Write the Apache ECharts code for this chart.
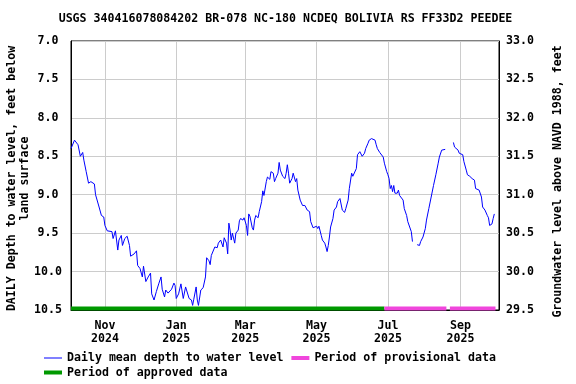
<!DOCTYPE html>
<html>
<head>
<meta charset="utf-8">
<script src="https://cdn.jsdelivr.net/npm/echarts@6/dist/echarts.min.js"></script>
<style>html,body{margin:0;padding:0;background:#fff;}#chart{width:576px;height:384px;}</style>
</head>
<body>
<div id="chart"></div>
<script>
const titleText = 'USGS 340416078084202 BR-078 NC-180 NCDEQ BOLIVIA RS FF33D2 PEEDEE';
const axisStart = '2024-10-03';
const axisEnd = '2025-10-04';
const xTickDates = ['2024-11-01','2025-01-01','2025-03-01','2025-05-01','2025-07-01','2025-09-01'];
const xTickLabels = ['Nov\n2024','Jan\n2025','Mar\n2025','May\n2025','Jul\n2025','Sep\n2025'];
const leftAxis = {min: 7.0, max: 10.5, step: 0.5};
const rightAxis = {min: 29.5, max: 33.0, step: 0.5};

const dates = [
'2024-10-03','2024-10-06','2024-10-09','2024-10-11','2024-10-13','2024-10-14','2024-10-16','2024-10-18','2024-10-20','2024-10-23',
'2024-10-24','2024-10-27','2024-10-29','2024-10-31','2024-11-01','2024-11-03','2024-11-07','2024-11-08','2024-11-10','2024-11-12',
'2024-11-13','2024-11-15','2024-11-16','2024-11-18','2024-11-20','2024-11-22','2024-11-23','2024-11-26','2024-11-28','2024-11-29',
'2024-12-01','2024-12-03','2024-12-04','2024-12-06','2024-12-08','2024-12-10','2024-12-11','2024-12-13','2024-12-15','2024-12-17',
'2024-12-19','2024-12-20','2024-12-22','2024-12-23','2024-12-25','2024-12-28','2024-12-30','2024-12-31','2025-01-01','2025-01-03',
'2025-01-05','2025-01-07','2025-01-09','2025-01-12','2025-01-14','2025-01-15','2025-01-16','2025-01-18','2025-01-19','2025-01-20',
'2025-01-22','2025-01-24','2025-01-26','2025-01-27','2025-01-29','2025-01-30','2025-01-31','2025-02-01','2025-02-03','2025-02-05',
'2025-02-06','2025-02-08','2025-02-10','2025-02-11','2025-02-13','2025-02-14','2025-02-15','2025-02-16','2025-02-17','2025-02-18',
'2025-02-20','2025-02-21','2025-02-23','2025-02-24','2025-02-25','2025-02-27','2025-02-28','2025-03-02','2025-03-03','2025-03-04',
'2025-03-05','2025-03-07','2025-03-08','2025-03-09','2025-03-10','2025-03-12','2025-03-13','2025-03-15','2025-03-16','2025-03-17',
'2025-03-19','2025-03-20','2025-03-22','2025-03-23','2025-03-25','2025-03-26','2025-03-27','2025-03-29','2025-03-30','2025-03-31',
'2025-04-02','2025-04-04','2025-04-05','2025-04-06','2025-04-07','2025-04-08','2025-04-10','2025-04-11','2025-04-13','2025-04-14',
'2025-04-15','2025-04-17','2025-04-19','2025-04-21','2025-04-23','2025-04-25','2025-04-26','2025-04-28','2025-05-01','2025-05-02',
'2025-05-03','2025-05-05','2025-05-06','2025-05-08','2025-05-09','2025-05-10','2025-05-11','2025-05-12','2025-05-13','2025-05-15',
'2025-05-16','2025-05-18','2025-05-19','2025-05-21','2025-05-23','2025-05-25','2025-05-26','2025-05-28','2025-05-29','2025-05-31',
'2025-06-01','2025-06-02','2025-06-04','2025-06-05','2025-06-07','2025-06-08','2025-06-09','2025-06-11','2025-06-12','2025-06-14',
'2025-06-15','2025-06-17','2025-06-18','2025-06-20','2025-06-21','2025-06-22','2025-06-24','2025-06-25','2025-06-27','2025-06-28',
'2025-06-30','2025-07-01','2025-07-02','2025-07-03','2025-07-04','2025-07-05','2025-07-06','2025-07-07','2025-07-09','2025-07-10',
'2025-07-11','2025-07-12','2025-07-14','2025-07-15','2025-07-17','2025-07-18','2025-07-19','2025-07-21','2025-07-22','2025-07-24',
'2025-07-26','2025-07-28','2025-07-29','2025-07-31','2025-08-02','2025-08-03','2025-08-05','2025-08-07','2025-08-09','2025-08-11',
'2025-08-13','2025-08-14','2025-08-16','2025-08-19','2025-08-22','2025-08-26','2025-08-27','2025-08-28','2025-08-30','2025-08-31',
'2025-09-03','2025-09-04','2025-09-06','2025-09-07','2025-09-09','2025-09-11','2025-09-13','2025-09-14','2025-09-17','2025-09-19',
'2025-09-20','2025-09-22','2025-09-24','2025-09-25','2025-09-26','2025-09-28','2025-09-29','2025-09-30'
];
const depth = [
8.40,8.29,8.35,8.50,8.45,8.55,8.70,8.85,8.83,8.86,
9.00,9.16,9.27,9.29,9.40,9.47,9.48,9.57,9.47,9.72,
9.59,9.53,9.66,9.57,9.54,9.66,9.80,9.77,9.73,9.92,
9.96,10.07,9.93,10.13,10.07,10.02,10.29,10.37,10.26,10.16,
10.07,10.23,10.33,10.24,10.28,10.23,10.15,10.18,10.35,10.29,
10.16,10.35,10.20,10.35,10.37,10.44,10.36,10.20,10.37,10.44,
10.24,10.21,10.07,9.82,9.86,9.91,9.79,9.81,9.68,9.69,
9.63,9.59,9.68,9.56,9.63,9.77,9.37,9.46,9.59,9.50,
9.63,9.50,9.46,9.34,9.31,9.33,9.30,9.40,9.53,9.25,
9.28,9.43,9.46,9.33,9.27,9.30,9.22,9.09,8.95,9.01,
8.83,8.77,8.80,8.70,8.72,8.83,8.79,8.72,8.58,8.68,
8.76,8.79,8.72,8.61,8.72,8.85,8.79,8.72,8.83,8.79,
8.94,9.07,9.14,9.14,9.20,9.22,9.35,9.43,9.41,9.44,
9.41,9.53,9.59,9.63,9.68,9.74,9.66,9.55,9.42,9.31,
9.20,9.16,9.09,9.05,9.20,9.23,9.18,9.07,8.92,8.72,
8.76,8.74,8.66,8.48,8.44,8.45,8.50,8.46,8.40,8.33,
8.29,8.27,8.25,8.29,8.35,8.40,8.45,8.46,8.51,8.59,
8.70,8.74,8.79,8.92,8.88,8.96,8.88,8.98,8.98,8.94,
9.01,9.03,9.07,9.18,9.27,9.35,9.37,9.48,9.61,null,
9.65,9.66,9.61,9.55,9.44,9.33,9.18,9.03,8.88,8.74,
8.59,8.51,8.42,8.41,null,8.32,8.38,8.38,8.42,8.46,
8.48,8.57,8.68,8.74,8.76,8.79,8.81,8.92,8.94,9.03,
9.16,9.20,9.27,9.30,9.40,9.38,9.31,9.25
];
const approvedPeriods = [['2024-10-03','2025-06-28']];
const provisionalPeriods = [['2025-06-28','2025-08-20'],['2025-08-23','2025-10-01']];
const periodLevel = 10.48;

function buildDays(a, b) {
  const out = [];
  let t = Date.parse(a + 'T00:00:00Z');
  const e = Date.parse(b + 'T00:00:00Z');
  while (t <= e) { out.push(new Date(t).toISOString().slice(0,10)); t += 86400000; }
  return out;
}
const days = buildDays(axisStart, axisEnd);
const seriesData = dates.map((d, i) => [d, depth[i] === null ? '-' : depth[i]]);
function periodData(list) {
  const out = [];
  list.forEach((p, i) => {
    if (i > 0) out.push([p[0], '-']);
    out.push([p[0], periodLevel], [p[1], periodLevel]);
  });
  return out;
}
const isTick = (idx, val) => xTickDates.indexOf(val) >= 0;
const FONT = {fontFamily: 'DejaVu Sans Mono', fontWeight: 'bold', fontSize: 11.6, color: '#000'};

const chart = echarts.init(document.getElementById('chart'), null, {renderer: 'canvas'});
chart.setOption({
  animation: false,
  backgroundColor: '#fff',
  graphic: [{
    type: 'text', x: 285.5, y: 19,
    style: {text: titleText, align: 'center', verticalAlign: 'middle', fill: '#000', font: 'bold 11.6px "DejaVu Sans Mono"'}
  }],
  grid: {left: 71, top: 41, width: 428, height: 269, outerBoundsMode: 'none', containLabel: false,
    show: true, borderColor: '#000', borderWidth: 1, backgroundColor: 'transparent'},
  legend: [{
    left: 39, top: 347, itemWidth: 18, itemHeight: 4, itemGap: 8,
    textStyle: Object.assign({}, FONT),
    data: [{name: 'Daily mean depth to water level', icon: 'path://M0,0H18V1H0Z'}, {name: 'Period of provisional data', icon: 'rect'}]
  }, {
    left: 39, top: 361.5, itemWidth: 18, itemHeight: 4,
    textStyle: Object.assign({}, FONT),
    data: [{name: 'Period of approved data', icon: 'rect'}]
  }],
  xAxis: {
    type: 'category', data: days, boundaryGap: false,
    axisLine: {show: true, lineStyle: {color: '#000'}},
    axisTick: {show: false},
    axisLabel: Object.assign({}, FONT, {interval: isTick, lineHeight: 13, margin: 9,
      formatter: v => xTickLabels[xTickDates.indexOf(v)] || ''}),
    splitLine: {show: true, interval: isTick, lineStyle: {color: '#cccccc', width: 1}}
  },
  yAxis: [{
    type: 'value', position: 'left', inverse: true,
    min: leftAxis.min, max: leftAxis.max, interval: leftAxis.step,
    name: 'DAILY Depth to water level, feet below\nland surface',
    nameLocation: 'middle', nameRotate: 90, nameGap: 40, nameMoveOverlap: false,
    nameTextStyle: Object.assign({}, FONT, {lineHeight: 13, padding: [0, 6, 0, 0]}),
    axisLine: {show: true, lineStyle: {color: '#000'}},
    axisTick: {show: false},
    axisLabel: Object.assign({}, FONT, {align: 'center', margin: 23, formatter: v => v.toFixed(1)}),
    splitLine: {show: true, lineStyle: {color: '#cccccc', width: 1}}
  }, {
    type: 'value', position: 'right',
    min: rightAxis.min, max: rightAxis.max, interval: rightAxis.step,
    name: 'Groundwater level above NAVD 1988, feet',
    nameLocation: 'middle', nameRotate: 90, nameGap: 53,
    nameTextStyle: Object.assign({}, FONT, {padding: [0, 12, 0, 0]}),
    axisLine: {show: true, lineStyle: {color: '#000'}},
    axisTick: {show: false},
    axisLabel: Object.assign({}, FONT, {margin: 7, formatter: v => v.toFixed(1)}),
    splitLine: {show: false}
  }],
  series: [{
    name: 'Period of approved data', type: 'line', yAxisIndex: 0,
    data: periodData(approvedPeriods), symbol: 'none', clip: false, z: 2,
    lineStyle: {color: '#009900', width: 4}, itemStyle: {color: '#009900'}
  }, {
    name: 'Period of provisional data', type: 'line', yAxisIndex: 0,
    data: periodData(provisionalPeriods), symbol: 'none', clip: false, z: 2,
    lineStyle: {color: '#f046dc', width: 4}, itemStyle: {color: '#f046dc'}
  }, {
    name: 'Daily mean depth to water level', type: 'line', yAxisIndex: 0,
    data: seriesData, symbol: 'none', showSymbol: false, connectNulls: false, z: 3,
    lineStyle: {color: '#0000ff', width: 1}, itemStyle: {color: '#0000ff'}
  }]
});
</script>
</body>
</html>
